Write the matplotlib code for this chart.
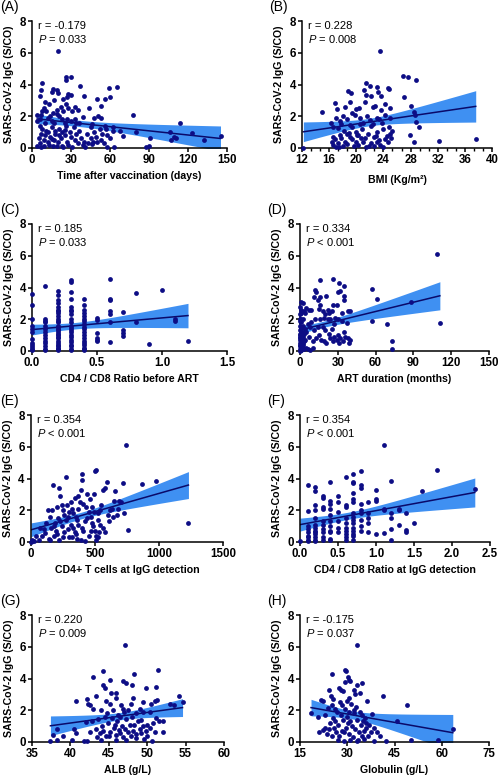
import numpy as np
import matplotlib
matplotlib.use('Agg')
import matplotlib.pyplot as plt
from matplotlib.ticker import MultipleLocator, AutoMinorLocator, FormatStrFormatter

plt.rcParams['font.family'] = ['Liberation Sans', 'DejaVu Sans']
plt.rcParams['mathtext.fontset'] = 'custom'
plt.rcParams['mathtext.rm'] = 'Liberation Sans'
plt.rcParams['mathtext.it'] = 'Liberation Sans:italic'

# (x, IgG) pairs
time_pts = [(20,6.1),(8,4.1),(26,4.5),(26,4.3),(30,4.45),(37,3.9),(59,3.8),(65,3.85),(60,3.2),(56,3.1),
            (50,3.1),(40,3.3),(28,3.4),(30,3.35),(16,3.7),(19,3.65),(7,3.65),(6,3.3),(10,2.9),(15,3.5),
            (17,3.0),(20,3.45),(24,3.1),(27,3.2),(26,2.8),(33,2.6),(31,2.3),(44,2.55),(53,2.65),(51,2.0),
            (53,1.9),(48,1.9),(78,2.05),(114,1.6),(4,2.1),(7,2.1),(4,1.7),(6,1.8),(9,2.5),(11,2.3),
            (12,1.9),(14,2.0),(15,1.7),(19,2.15),(21,2.0),(23,1.8),(19,2.4),(30,1.7),(33,1.8),(39,1.95),
            (13,2.8),(22,2.6),(24,2.3),(28,2.5),(35,2.4),(10,1.6),(17,1.55),(25,1.6),(36,1.55),(46,1.5),
            (8,2.3),(16,2.2),(45,1.35),(57,1.2),(62,1.35),(68,1.05),(70,0.75),(80,1.0),(91,0.63),(106,1.0),
            (107,0.5),(109,0.7),(111,0.6),(123,0.95),(132,0.5),(145,0.77),(58,0.05),(63,0.05),(88,0.05),(90,0.1),
            (5,0.6),(6,0.3),(7,0.9),(7,0.05),(8,1.2),(9,0.5),(9,0.1),(10,0.8),(11,1.1),(12,0.4),
            (13,0.2),(14,0.7),(15,1.3),(16,0.1),(17,0.5),(18,0.9),(19,0.1),(20,0.35),(21,1.2),(22,0.6),
            (23,0.15),(24,0.05),(25,0.8),(26,1.4),(27,0.4),(28,0.2),(29,1.0),(30,0.7),(31,0.05),(32,1.3),
            (33,0.5),(34,0.9),(35,0.3),(36,1.1),(38,0.6),(39,0.2),(40,0.4),(41,0.05),(42,0.9),(43,0.3),
            (45,0.6),(46,0.25),(47,0.35),(48,1.0),(49,0.7),(50,0.4),(52,1.2),(53,0.5),(54,0.9),(55,0.3),
            (56,1.4),(58,0.8),(60,0.6),(62,1.1),(18,1.1),(21,0.8),(25,1.15),(12,1.0),(6,1.4),(27,1.8),
            (34,1.6),(15,0.55),(4,0.1),(23,1.0)]

bmi_pts = [(23.5,6.1),(26.9,4.55),(27.6,4.45),(28.8,4.3),(21.4,4.1),(22.0,3.9),(23.0,3.85),(24.6,3.8),(24.8,3.7),
           (18.8,3.6),(19.2,3.45),(21.2,3.65),(21.5,3.35),(22.2,3.3),(23.2,3.5),(23.6,3.3),(27.0,3.2),(15.0,2.25),
           (16.9,2.85),(17.1,2.45),(18.3,2.6),(19.0,2.9),(20.0,2.45),(20.4,2.55),(21.3,2.9),(22.5,2.6),(22.8,2.65),
           (23.6,2.4),(24.3,2.8),(25.0,2.55),(28.0,2.65),(28.5,2.25),(28.6,2.1),(28.8,1.65),(29.2,1.3),
           (16.3,1.6),(17.0,1.9),(17.6,1.7),(18.0,2.0),(18.7,1.8),(19.3,2.2),(19.8,2.1),(20.6,1.9),(21.0,1.6),
           (21.6,2.0),(22.0,1.75),(23.0,1.9),(23.4,1.85),(24.2,2.1),(25.0,1.9),(27.9,0.8),(28.5,0.35),(32.2,0.45),
           (37.6,0.55),(17.3,1.25),(16.6,1.3),(18.2,1.1),(18.6,0.9),(19.4,1.3),(20.0,1.0),(20.2,0.8),(20.8,1.2),
           (21.3,0.6),(21.7,0.9),(22.1,1.4),(22.6,0.7),(23.0,1.0),(23.4,0.5),(24.0,1.2),(24.5,0.75),(25.0,0.9),
           (25.2,1.05),(24.8,1.3),(23.8,1.6),(22.4,1.5),(20.5,1.5),(19.0,1.45),(17.8,1.5),(16.4,0.4),(16.5,0.7),
           (16.6,0.2),(16.8,0.55),(17.0,0.05),(17.3,0.3),(17.5,0.05),(17.7,0.6),(18.0,0.1),(18.3,0.4),(18.6,0.25),
           (19.0,0.7),(19.3,0.55),(19.6,0.1),(19.9,0.4),(20.3,0.2),(20.7,0.65),(21.0,0.35),(21.4,0.05),(21.8,0.15),
           (22.2,0.3),(22.6,0.1),(23.0,0.4),(23.5,0.2),(23.9,0.05),(24.3,0.55),(24.7,0.35),(25.1,0.6),(17.6,0.8),
           (18.9,0.95),(20.1,0.85),(22.9,0.75),(12.2,0.02)]

# CD4/CD8 ratio before ART: values stacked per ratio step
ratio0_x = [0.0]*12 + [0.1]*14 + [0.2]*28 + [0.3]*22 + [0.4]*19 + [0.5]*6 + [0.6]*7 + [0.7]*4 + [0.8]*2 + [0.9, 1.0, 1.1, 1.1, 1.2]
ratio0_y = [3.6,2.9,2.0,1.6,1.4,1.2,0.75,0.4,0.1,0.05,0.25,0.5,
            4.1,2.0,1.9,1.8,1.6,1.4,1.2,1.0,0.8,0.6,0.5,0.3,0.15,0.05,
            3.8,3.5,3.2,3.0,2.8,2.6,2.5,2.4,2.2,2.0,1.9,1.8,1.6,1.5,1.4,1.3,1.2,1.1,1.0,0.9,0.8,0.6,0.5,0.4,0.3,0.2,0.1,0.05,
            4.45,4.35,3.7,3.3,2.8,2.6,2.5,2.3,2.0,1.8,1.55,1.45,1.3,1.2,1.0,0.9,0.7,0.55,0.4,0.3,0.1,0.05,
            3.3,2.9,2.6,2.4,2.2,2.0,1.9,1.7,1.5,1.4,1.2,1.0,0.8,0.6,0.5,0.35,0.2,0.1,0.05,
            2.1,1.95,1.15,0.85,0.7,0.6,
            4.55,3.3,3.2,2.5,2.3,1.85,0.55,
            2.45,1.3,1.15,0.95,
            3.65,1.85,
            0.45,3.85,2.0,1.9,0.6]

art_pts = [(109,6.1),(111,1.75),(88,3.1),(73,0.6),(73,0.1),(69,1.7),(61,3.3),(57,3.9),(57,1.9),(26,4.55),
           (16,4.45),(31,4.3),(35,4.1),(12,3.85),(13,3.7),(11,3.4),(16,3.4),(21,3.45),(30,3.7),(32,3.75),
           (35,3.45),(35,3.2),(38,2.55),(40,2.5),(33,2.4),(29,2.9),(26,2.9),(22,2.6),(23,2.4),(19,2.1),
           (16,2.9),(15,2.65),(18,2.55),(9,2.6),(7,2.6),(5,2.7),(4,2.4),(3,2.5),(1,3.1),(0.5,2.6),
           (1,2.4),(0.3,2.8),(0,2.3),(0,1.9),(1,1.8),(2,1.6),(0.5,1.5),(0,1.3),(0.5,1.0),(0,0.8),
           (1,0.6),(0,0.5),(0.5,0.3),(0,0.15),(1,0.05),(2,0.4),(3,1.1),(4,0.7),(5,0.2),(6,0.1),
           (7,0.9),(8,1.5),(9,1.8),(10,0.6),(11,1.3),(12,2.0),(13,0.8),(14,1.5),(15,1.0),(16,2.0),
           (17,0.7),(18,1.5),(19,0.6),(20,1.3),(21,0.5),(22,2.0),(23,1.1),(24,0.8),(25,1.4),(26,0.6),
           (27,0.9),(28,2.1),(29,0.7),(30,1.0),(31,0.5),(32,0.8),(33,1.9),(34,0.6),(35,1.2),(36,0.9),
           (37,1.75),(39,0.5),(38,0.8),(30,2.0),(27,1.7),(24,2.0),(20,2.3),(2,3.0),(3,0.1),(4,1.4),
           (1,2.0),(2,2.0),(0,1.1),(0,2.0),(6,1.7),(1,1.2),(2,0.9),(3,0.6),(0,0.0),(10,0.2),
           (8,0.05),(1,1.5),(5,1.2),(40,0.7),(25,2.5),(14,3.2),(0,0.3),(0.5,0.6),(1,0.9),(0,0.7),
           (1.5,0.2),(0.5,0.05),(2,1.2),(1,0.4),(0,1.6),(0.3,0.9),(1.2,0.15),(2.5,0.5),
           (0,0.4),(0.5,0.8),(1,0.2),(0,1.0),(1.5,0.7)]

cd4_pts = [(745,6.1),(1230,1.2),(975,3.85),(870,3.65),(720,3.7),(760,0.75),(730,1.85),(700,2.5),(690,2.6),(680,2.1),
           (670,1.7),(660,3.2),(650,2.6),(640,1.6),(620,2.0),(610,1.35),(590,3.8),(580,3.4),(560,3.3),(550,2.3),
           (540,2.0),(530,0.6),(520,1.8),(510,4.55),(500,4.45),(495,3.0),(490,1.9),(510,0.1),(505,0.35),(500,0.7),
           (485,1.0),(480,2.2),(470,1.6),(460,2.7),(450,0.4),(440,3.0),(430,2.2),(420,1.3),(410,0.7),(400,4.3),
           (395,3.9),(390,3.3),(380,2.5),(370,2.9),(365,2.1),(360,1.4),(350,0.5),(340,2.8),(330,1.8),(320,0.3),
           (310,1.1),(300,1.9),(290,0.8),(280,2.3),(275,4.1),(270,1.4),(260,0.6),(250,2.0),(240,1.0),(230,2.9),
           (220,0.1),(215,3.4),(210,1.5),(200,2.2),(195,0.7),(190,1.2),(180,0.4),(170,3.6),(165,2.0),(160,0.9),
           (150,1.6),(140,0.2),(130,2.0),(120,1.2),(110,0.55),(100,0.8),(85,0.4),(70,0.9),(60,0.1),(40,0.4),
           (25,0.05),(10,0.05),(5,0.1),(0,0.0),(300,0.3),(330,0.9),(360,0.2),(420,0.05),(450,1.9),(520,0.3),
           (540,1.05),(560,0.9),(580,0.6),(600,1.7),(630,2.1),(470,0.7),(440,1.5),(390,0.1),(370,1.1),(340,0.6),
           (250,0.3),(230,1.3),(200,0.5),(180,1.0),(150,0.1),(260,1.7),(310,2.5),(410,2.4),(355,1.55),(480,1.2),
           (520,1.4),(290,1.6),(240,2.3),(400,0.9),(320,2.1)]

# CD4/CD8 ratio at IgG detection
ratio1_x = [0.0] + [0.1]*9 + [0.2]*13 + [0.3]*10 + [0.4]*11 + [0.5]*6 + [0.6]*10 + [0.7]*15 + [0.8]*9 + [0.9]*5 + [1.0]*4 + [1.1]*4 + [1.2]*5 + [1.3]*3 + [1.4]*3 + [1.5, 1.6, 1.8, 2.3]
ratio1_y = [0.05,
            3.6,1.95,1.0,0.8,0.6,0.4,0.1,0.05,0.3,
            3.45,3.2,2.3,2.0,1.5,1.1,0.9,0.7,0.5,0.3,0.1,0.05,0.6,
            2.9,2.8,2.2,2.1,1.3,1.1,0.8,0.6,0.3,0.1,
            3.8,2.6,2.4,2.1,1.7,1.3,1.0,0.7,0.6,0.2,0.1,
            2.9,2.5,1.9,1.3,0.9,0.6,
            4.1,2.35,2.2,1.5,1.2,0.9,0.7,0.5,0.3,0.1,
            4.3,3.8,3.7,3.1,2.7,2.5,1.8,1.6,1.4,1.2,0.9,0.7,0.5,0.35,0.1,
            4.45,3.6,3.4,2.4,2.0,1.8,1.4,1.0,0.7,
            2.5,1.8,1.5,1.2,0.6,
            3.3,2.7,2.6,0.5,
            6.1,2.1,2.0,0.55,
            3.85,1.8,1.5,0.8,0.1,
            2.1,2.0,1.1,
            1.85,0.75,0.6,
            1.2,3.2,4.55,3.35]

alb_pts = [(47.1,6.1),(51.4,4.55),(44.2,4.45),(43.0,4.1),(48.3,4.3),(45.2,3.9),(46.8,3.85),(47.3,3.7),(48.0,3.6),
           (44.2,3.6),(44.5,3.4),(46.0,3.1),(45.3,3.1),(49.8,3.4),(51.1,3.45),(43.3,2.9),(42.1,2.7),(40.7,2.6),
           (42.3,2.4),(44.7,2.6),(46.0,2.75),(48.2,2.8),(49.4,2.55),(50.5,2.4),(51.0,2.6),(51.3,2.65),(54.1,2.9),
           (54.6,2.55),(53.5,2.3),(42.6,2.3),(43.0,2.05),(44.0,2.0),(44.8,1.8),(45.6,2.0),(46.2,1.7),(46.8,2.1),
           (47.5,2.0),(48.5,1.8),(49.0,2.1),(49.4,1.9),(50.4,1.9),(51.2,1.5),(51.6,1.3),(52.0,1.35),(52.1,0.65),
           (37.4,0.05),(37.7,0.45),(38.2,0.8),(38.3,0.1),(40.2,0.15),(40.5,0.8),(40.7,0.55),(41.8,0.05),(42.2,0.05),
           (42.5,0.6),(42.8,1.3),(43.3,0.8),(43.5,0.3),(43.9,0.55),(44.1,1.0),(44.3,0.7),(44.6,0.4),(44.9,1.2),
           (45.2,0.6),(45.4,1.5),(45.7,0.9),(45.9,0.45),(46.1,1.3),(46.3,0.75),(46.5,0.55),(46.7,1.0),(46.9,0.3),
           (47.1,0.85),(47.3,1.45),(47.5,0.6),(47.7,1.1),(47.9,0.35),(48.1,0.7),(48.3,1.05),(48.5,0.5),(48.8,1.3),
           (49.0,0.8),(49.2,0.55),(49.5,1.0),(49.8,0.7),(50.0,0.4),(50.3,0.9),(50.6,0.05),(50.8,1.2),(51.0,0.6),
           (46.0,0.1),(47.2,0.1),(45.0,0.35),(43.6,1.45),(44.5,1.6),(46.4,1.6),(48.0,1.55),(49.2,1.4),(50.0,1.1),
           (42.0,1.25),(47.0,1.9),(45.8,1.1),(48.6,0.25),(44.0,0.15),(49.6,0.2),(46.6,2.3),(47.9,2.4),(45.2,2.4),
           (39.0,0.4),(53.0,2.4)]

glob_pts = [(33,6.1),(29.3,4.55),(29.6,4.45),(25.3,4.3),(30.1,4.1),(31,3.85),(29.4,3.8),(30.5,3.9),(34.8,3.7),
            (33.2,3.6),(27.3,3.4),(28,3.3),(32.3,3.3),(24.3,3.3),(28.7,3.2),(33.9,3.1),(41.2,2.9),(49,2.3),
            (45.7,1.35),(50.3,0.15),(58.7,0.1),(63.5,0.8),(42.3,0.05),(38.4,0.05),(18.5,1.8),(20.6,1.55),(21,0.6),
            (21.7,2.65),(22.3,2.6),(22.3,0.75),(23,1.7),(23.5,0.5),(24,2.15),(24.2,0.8),(24.5,1.2),(24.8,2.9),
            (25,0.35),(25.3,2.3),(25.6,1.5),(25.9,0.9),(26.2,2.1),(26.5,0.6),(26.8,1.9),(27.1,1.1),(27.4,0.4),
            (27.7,2.5),(28,1.7),(28.3,0.7),(28.6,1.4),(28.9,0.05),(29.2,2.1),(29.5,0.9),(29.8,2.6),(30.1,1.2),
            (30.4,0.5),(30.7,1.9),(31,0.1),(31.3,2.4),(31.6,1.0),(31.9,0.3),(32.2,1.8),(32.5,0.8),(32.8,2.2),
            (33.1,1.4),(33.4,0.1),(33.7,0.6),(34,1.9),(34.3,1.1),(34.6,0.4),(35,1.3),(35.3,0.2),(35.6,1.5),
            (35.9,0.9),(36.3,2.6),(36.6,0.4),(37,1.1),(37.6,0.6),(38,1.75),(38.6,0.9),(39.5,0.65),(40.5,0.4),
            (36,1.2),(34.8,1.7),(32,2.0),(30,1.55),(27,0.15),(26,1.3),(23,0.9),(29,0.6),(33,0.05),
            (31,1.3),(35.2,0.7),(28.2,2.3),(30.6,2.8),(32.6,3.0),(25.5,2.7)]

panel_tags = ['(A)', '(B)', '(C)', '(D)', '(E)', '(F)', '(G)', '(H)']
x_labels = ['Time after vaccination (days)', 'BMI (Kg/m²)', 'CD4 / CD8 Ratio before ART',
            'ART duration (months)', 'CD4+ T cells at IgG detection', 'CD4 / CD8 Ratio at IgG detection',
            'ALB (g/L)', 'Globulin (g/L)']
r_texts = ['r = -0.179', 'r = 0.228', 'r = 0.185', 'r = 0.334', 'r = 0.354', 'r = 0.354', 'r = 0.220', 'r = -0.175']
p_texts = ['= 0.033', '= 0.008', '= 0.033', '< 0.001', '< 0.001', '< 0.001', '= 0.009', '= 0.037']
x_ranges = [(0, 150, 30), (12, 40, 4), (0, 1.5, 0.5), (0, 150, 30), (0, 1500, 500), (0, 2.5, 0.5), (35, 60, 5), (15, 75, 15)]

def unzip(pts):
    return [p[0] for p in pts], [p[1] for p in pts]

datasets = [unzip(time_pts), unzip(bmi_pts), (ratio0_x, ratio0_y), unzip(art_pts),
            unzip(cd4_pts), (ratio1_x, ratio1_y), unzip(alb_pts), unzip(glob_pts)]

# axes boxes in pixels: left, top, width, height (figure is 500 x 776)
boxes = [(32, 21, 195, 127), (302, 21, 190, 127),
         (32, 224, 195, 127), (300, 224, 189, 127),
         (31, 415, 192, 127), (300, 415, 190, 127),
         (32, 615, 192, 127), (300, 615, 189, 127)]

W, H = 500, 776
dot = '#0d0d85'
band = '#3f90f2'
fig = plt.figure(figsize=(5, 7.76), dpi=100)

for i in range(8):
    l, t, w, h = boxes[i]
    ax = fig.add_axes([l / W, 1 - (t + h) / H, w / W, h / H])
    x = np.array(datasets[i][0], dtype=float)
    y = np.array(datasets[i][1], dtype=float)

    # linear fit with 95% confidence band
    n = len(x)
    b, a = np.polyfit(x, y, 1)
    resid = y - (a + b * x)
    s = np.sqrt(np.sum(resid ** 2) / (n - 2))
    sxx = np.sum((x - x.mean()) ** 2)
    xg = np.linspace(x.min(), x.max(), 200)
    yg = a + b * xg
    half = 1.98 * s * np.sqrt(1 / n + (xg - x.mean()) ** 2 / sxx)
    ax.fill_between(xg, yg - half, yg + half, color=band, lw=0, zorder=1)
    ax.plot(xg, yg, color='#0a0a6a', lw=1.1, zorder=2)
    ax.scatter(x, y, s=12, color=dot, lw=0, zorder=3, clip_on=False)

    x0, x1, step = x_ranges[i]
    ax.set_xlim(x0, x1)
    ax.set_ylim(0, 8)
    ax.xaxis.set_major_locator(MultipleLocator(step))
    ax.yaxis.set_major_locator(MultipleLocator(2))
    if step < 1:
        ax.xaxis.set_major_formatter(FormatStrFormatter('%.1f'))
    if i == 1:
        ax.xaxis.set_minor_locator(AutoMinorLocator(3))
    for sp in ['top', 'right']:
        ax.spines[sp].set_visible(False)
    for sp in ['left', 'bottom']:
        ax.spines[sp].set_linewidth(1.1)
    ax.tick_params(width=1.1, length=3, pad=1.5, labelsize=8.3)
    ax.tick_params(which='minor', width=1.0, length=2)
    for lab in ax.get_xticklabels() + ax.get_yticklabels():
        lab.set_fontweight('bold')

    ax.set_xlabel(x_labels[i], fontsize=7.6, fontweight='bold')
    ax.set_ylabel('SARS-CoV-2 IgG (S/CO)', fontsize=7.6, fontweight='bold')
    ax.xaxis.set_label_coords(0.5, -(27 if i == 1 else 23) / h)
    ax.yaxis.set_label_coords(-18 / w, 0.5)

    ax.text(6 / w, 1.0, r_texts[i], transform=ax.transAxes, fontsize=8, va='top', ha='left')
    ax.text(6 / w, 1 - 12 / h, '$P$ ' + p_texts[i], transform=ax.transAxes, fontsize=8, va='top', ha='left')
    fig.text(max(l - 33, 0.5) / W, 1 - (t - 14) / H, panel_tags[i], fontsize=10, va='center', ha='left')

fig.savefig('out.png', dpi=100)
